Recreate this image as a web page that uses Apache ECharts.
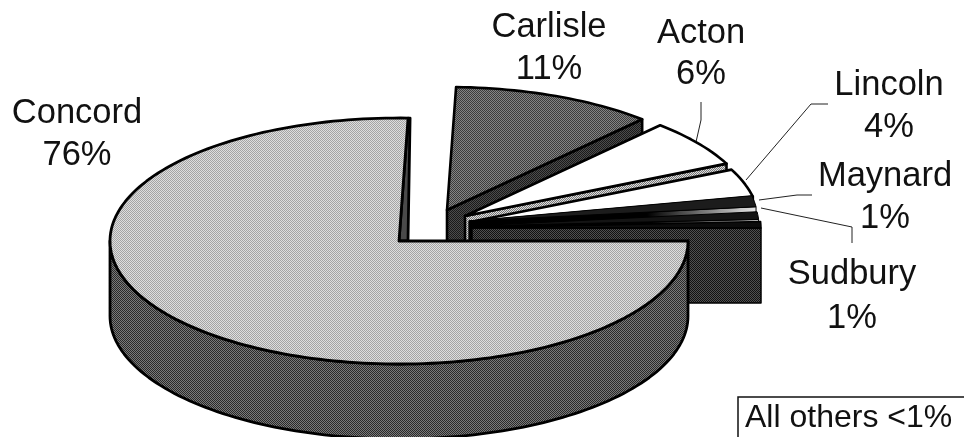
<!DOCTYPE html>
<html>
<head>
<meta charset="utf-8">
<style>html,body{margin:0;padding:0;background:#fff}#chart{width:964px;height:437px}</style>
<script src="https://cdn.jsdelivr.net/npm/echarts@6/dist/echarts.min.js"></script>
</head>
<body>
<div id="chart"></div>
<script>
// painter's order: back slices first, Concord last
const categories = ['Carlisle', 'Acton', 'Lincoln', 'Maynard', 'Sudbury', 'All others', 'Concord'];
const shares = [11.3, 6.2, 3.7, 1.45, 1.0, 0.85, 75.5];
const shareLabels = ['11%', '6%', '4%', '1%', '1%', '<1%', '76%'];

// 3d look
const RX = 289, RY = 123, DEPTH = 75, START_ANGLE = 88.2;
const centers = [[447, 210], [465, 216], [470, 222], [469, 221], [470, 226], [472, 228], [399, 241]];
const edgeWidths = [2.6, 2.6, 2.6, 1, 1, 1.5, 2.8];

// scanned print look: two tone dither instead of flat greys
function dither(a, b) {
    const c = document.createElement('canvas');
    c.width = c.height = 2;
    const g = c.getContext('2d');
    g.fillStyle = a;
    g.fillRect(0, 0, 2, 2);
    g.fillStyle = b;
    g.fillRect(0, 0, 1, 1);
    g.fillRect(1, 1, 1, 1);
    return { image: c, repeat: 'repeat' };
}
function fade(to) {
    return new echarts.graphic.LinearGradient(0, 0, 1, 0, [
        { offset: 0.62, color: '#000' }, { offset: 1, color: to }
    ]);
}
const topFills = [dither('#848484', '#3c3c3c'), '#fff', '#fff', '#1c1c1c', '#141414', '#0c0c0c', dither('#dedede', '#a4a4a4')];
const sideFills = [dither('#4c4c4c', '#1a1a1a'), dither('#ddd', '#777'), '#060606', fade('#e8e8e8'), fade('#d0d0d0'), dither('#505050', '#121212'), dither('#7a7a7a', '#2a2a2a')];

// label placement [center x, first baseline, second baseline]
const labelPos = [[549, 36, 78], [701, 42, 83], [889, 94, 136], [885, 185, 227], [852, 283, 327], null, [77, 122, 164]];
const leaders = [
    null,
    [[701, 102], [701, 120], [696, 142]],
    [[828, 104], [811, 104], [746, 180]],
    [[812, 195], [797, 195], [759, 200]],
    [[852, 243], [852, 227], [761, 208]]
];

function rimPoint(c, deg, dy) {
    const r = deg * Math.PI / 180;
    return [c[0] + RX * Math.cos(r), c[1] - RY * Math.sin(r) + (dy || 0)];
}

function arcPoints(c, from, to, dy) {
    const pts = [];
    const n = Math.max(2, Math.ceil(Math.abs(to - from) / 1.5));
    for (let i = 0; i <= n; i++) pts.push(rimPoint(c, from + (to - from) * i / n, dy));
    return pts;
}

function polygon(points, fill, lineWidth) {
    return {
        type: 'polygon',
        shape: { points: points },
        style: { fill: fill, stroke: '#000', lineWidth: lineWidth, lineJoin: 'round' }
    };
}

function renderSlice(params, api) {
    const i = params.dataIndex;
    let before = 0;
    for (let k = 0; k < i; k++) before += shares[k];
    const from = START_ANGLE - before * 3.6;
    const to = from - api.value(1) * 3.6;
    const c = centers[i];
    const w = edgeWidths[i];
    const children = [];
    const rimEnd = rimPoint(c, to);

    if (to < -1) {
        // big slice: round outer wall and the thin inner wall at its closing edge
        children.push(polygon([c, rimEnd, [rimEnd[0] + 2, rimEnd[1]], [c[0] + 9, c[1]]], '#4a4a4a', w));
        const wall = arcPoints(c, 0, -180, 0).concat(arcPoints(c, -180, 0, DEPTH));
        children.push(polygon(wall, sideFills[i], w));
    } else {
        // flat cut face of the pulled out slice
        children.push(polygon([c, rimEnd, [rimEnd[0], rimEnd[1] + DEPTH], [c[0], c[1] + DEPTH]], sideFills[i], w));
    }
    children.push(polygon([c].concat(arcPoints(c, from, to)), topFills[i], w));
    return { type: 'group', children: children };
}

function buildGraphics() {
    const els = [];
    const font = '34.5px "Liberation Sans", Arial, sans-serif';
    labelPos.forEach((p, i) => {
        if (!p) return;
        [categories[i], shareLabels[i]].forEach((t, row) => {
            els.push({
                type: 'text', silent: true,
                style: { text: t, x: p[0], y: p[row + 1] - 9, font: font, fill: '#111', align: 'center', verticalAlign: 'middle' }
            });
        });
    });
    leaders.forEach(line => {
        if (!line) return;
        els.push({
            type: 'polyline', silent: true,
            shape: { points: line },
            style: { fill: null, stroke: '#222', lineWidth: 1 }
        });
    });
    // boxed note, runs off the page on the right and bottom
    els.push({
        type: 'polyline', silent: true,
        shape: { points: [[738, 437], [738, 397], [964, 397]] },
        style: { fill: null, stroke: '#111', lineWidth: 1.5 }
    });
    els.push({
        type: 'text', silent: true,
        style: { text: categories[5] + ' ' + shareLabels[5], x: 745, y: 418, font: '32px "Liberation Sans", Arial, sans-serif', fill: '#111', align: 'left', verticalAlign: 'middle' }
    });
    return els;
}

const chart = echarts.init(document.getElementById('chart'), null, { renderer: 'canvas' });
chart.setOption({
    animation: false,
    backgroundColor: '#fff',
    graphic: buildGraphics(),
    series: [{
        type: 'custom',
        coordinateSystem: 'none',
        renderItem: renderSlice,
        data: categories.map((name, i) => ({ name: name, value: [i, shares[i]] }))
    }]
});
</script>
</body>
</html>
